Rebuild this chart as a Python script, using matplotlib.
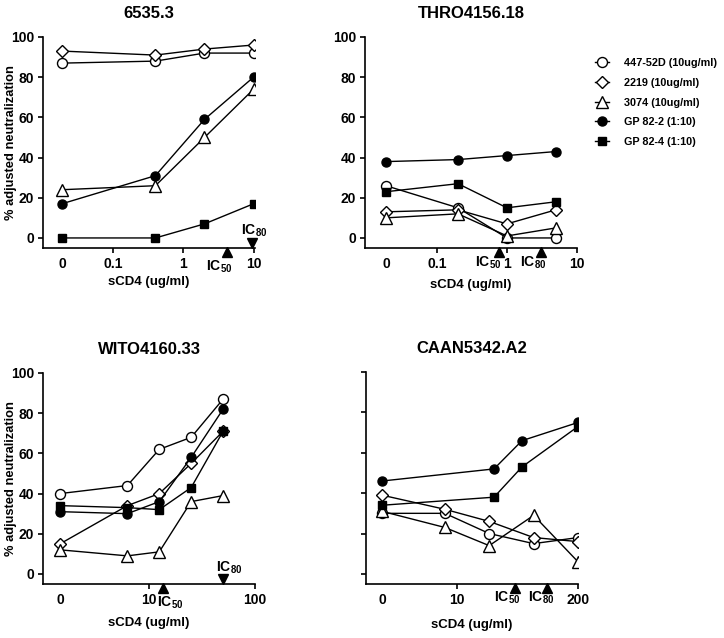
import matplotlib
matplotlib.use("Agg")
import matplotlib.pyplot as plt
from matplotlib.lines import Line2D

plt.rcParams['font.family'] = ['Liberation Sans', 'DejaVu Sans']
plt.rcParams['font.weight'] = 'bold'
plt.rcParams['mathtext.fontset'] = 'custom'
plt.rcParams['mathtext.rm'] = 'Liberation Sans:bold'
plt.rcParams['mathtext.it'] = 'Liberation Sans:bold'
plt.rcParams['mathtext.bf'] = 'Liberation Sans:bold'
plt.rcParams['mathtext.default'] = 'rm'

SERIES = ["447-52D (10ug/ml)", "2219 (10ug/ml)", "3074 (10ug/ml)",
          "GP 82-2 (1:10)", "GP 82-4 (1:10)"]

# --- panel 1: 6535.3 ---
p1_conc = [0, 0.4, 2, 10]
p1_447 = [87, 88, 92, 92]
p1_2219 = [93, 91, 94, 96]
p1_3074 = [24, 26, 50, 74]
p1_gp2 = [17, 31, 59, 80]
p1_gp4 = [0, 0, 7, 17]
p1_ic = [4.2, 9.6]

# --- panel 2: THRO4156.18 ---
p2_conc = [0, 0.2, 1, 5]
p2_447 = [26, 15, 0, 0]
p2_2219 = [13, 14, 7, 14]
p2_3074 = [10, 12, 1, 5]
p2_gp2 = [38, 39, 41, 43]
p2_gp4 = [23, 27, 15, 18]
p2_ic = [0.77, 3.1]

# --- panel 3: WITO4160.33 ---
p3_conc = [0, 6.25, 12.5, 25, 50]
p3_447 = [40, 44, 62, 68, 87]
p3_2219 = [15, 34, 40, 55, 71]
p3_3074 = [12, 9, 11, 36, 39]
p3_gp2 = [31, 30, 36, 58, 82]
p3_gp4 = [34, 33, 32, 43, 71]
p3_ic = [13.6, 50]

# --- panel 4: CAAN5342.A2 ---
p4_conc_mab = [0, 7.4, 22.2, 66.7, 200]
p4_conc_gp = [0, 25, 50, 200]
p4_447 = [30, 30, 20, 15, 18]
p4_2219 = [39, 32, 26, 18, 16]
p4_3074 = [31, 23, 14, 29, 6]
p4_gp2 = [46, 52, 66, 75]
p4_gp4 = [34, 38, 53, 73]
p4_ic = [42, 93]

STYLES = [
    dict(marker='o', ms=7.2, mfc='white'),
    dict(marker='D', ms=5.8, mfc='white'),
    dict(marker='^', ms=8.0, mfc='white'),
    dict(marker='o', ms=6.5, mfc='black'),
    dict(marker='s', ms=5.4, mfc='black'),
]

W, H = 724, 638
fig = plt.figure(figsize=(W / 100, H / 100), dpi=100)


def add_axes(left, right, top, bottom):
    return fig.add_axes([left / W, 1 - bottom / H, (right - left) / W, (bottom - top) / H])


def style_axes(ax, zero, ticks, labels, xlim, ylabels=True):
    ax.set_xscale('log')
    ax.set_xlim(*xlim)
    ax.set_ylim(-5, 100)
    ax.set_xticks([zero] + ticks, labels=['0'] + labels)
    ax.minorticks_off()
    ax.xaxis.get_major_ticks()[0].tick1line.set_visible(False)
    ax.set_yticks(range(0, 101, 20))
    if not ylabels:
        ax.set_yticklabels([])
    for s in ['top', 'right']:
        ax.spines[s].set_visible(False)
    for s in ['left', 'bottom']:
        ax.spines[s].set_linewidth(1.2)
    ax.tick_params(length=3.5, width=1.2, labelsize=10, pad=3)
    for lab in ax.get_xticklabels() + ax.get_yticklabels():
        lab.set_fontweight('bold')


def plot_series(ax, xs_list, ys_list, zero):
    for xs, ys, st in zip(xs_list, ys_list, STYLES):
        xx = [zero if v == 0 else v for v in xs]
        ax.plot(xx, ys, color='black', lw=1.0, mec='black', mew=1.0, zorder=3, **st)


def ic_marks(ax, ic, kinds, offsets):
    # kinds: 'up' below axis, 'down' above axis
    for val, kind, off, name in zip(ic, kinds, offsets, ['50', '80']):
        if kind == 'up':
            y, m = -7.2, '^'
        else:
            y, m = -2.6, 'v'
        ax.plot([val], [y], marker=m, ms=6.5, color='black', clip_on=False, zorder=5)
        ax.annotate('IC$_{%s}$' % name, xy=(val, y), xytext=off, textcoords='offset points',
                    ha='center', va='center', fontsize=10, fontweight='bold',
                    annotation_clip=False)


# panel 1
ax1 = add_axes(43, 255, 37, 248)
z1 = 0.0186
plot_series(ax1, [p1_conc] * 5, [p1_447, p1_2219, p1_3074, p1_gp2, p1_gp4], z1)
style_axes(ax1, z1, [0.1, 1, 10], ['0.1', '1', '10'], (0.01, 10.5))
ic_marks(ax1, p1_ic, ['up', 'down'], [(-5.8, -10), (1.5, 8.6)])
ax1.set_title('6535.3', fontsize=12, fontweight='bold', pad=14)

# panel 2
ax2 = add_axes(365, 577, 37, 248)
z2 = 0.0187
plot_series(ax2, [p2_conc] * 5, [p2_447, p2_2219, p2_3074, p2_gp2, p2_gp4], z2)
style_axes(ax2, z2, [0.1, 1, 10], ['0.1', '1', '10'], (0.0094, 10))
ic_marks(ax2, p2_ic, ['up', 'up'], [(-7.5, -7.5), (-6, -7.5)])
ax2.set_title('THRO4156.18', fontsize=12, fontweight='bold', pad=14)

# panel 3
ax3 = add_axes(43, 255, 373, 584)
z3 = 1.45
plot_series(ax3, [p3_conc] * 5, [p3_447, p3_2219, p3_3074, p3_gp2, p3_gp4], z3)
style_axes(ax3, z3, [10, 100], ['10', '100'], (1, 100))
ic_marks(ax3, p3_ic, ['up', 'down'], [(5, -10), (4.5, 8)])
ax3.set_title('WITO4160.33', fontsize=12, fontweight='bold', pad=14)

# panel 4
ax4 = add_axes(366, 578, 372, 584)
z4 = 1.56
plot_series(ax4, [p4_conc_mab] * 3 + [p4_conc_gp] * 2,
            [p4_447, p4_2219, p4_3074, p4_gp2, p4_gp4], z4)
style_axes(ax4, z4, [10, 200], ['10', '200'], (1.05, 200), ylabels=False)
ic_marks(ax4, p4_ic, ['up', 'up'], [(-5.8, -7), (-4.5, -7)])
ax4.set_title('CAAN5342.A2', fontsize=12, fontweight='bold', pad=14)

for ax, ly in [(ax1, -0.161), (ax2, -0.175), (ax3, -0.185), (ax4, -0.194)]:
    ax.set_xlabel('sCD4 (ug/ml)', fontsize=9.5, fontweight='bold')
    ax.xaxis.set_label_coords(0.5, ly)
    ax.xaxis.label.set_va('center')

for ax in [ax1, ax3]:
    ax.set_ylabel('% adjusted neutralization', fontsize=9.3, fontweight='bold')
    ax.yaxis.set_label_coords(-0.152, 0.5)
    ax.yaxis.label.set_va('center')

handles = [Line2D([], [], color='black', lw=1.0, mec='black', mew=1.0, **st) for st in STYLES]
fig.legend(handles, SERIES, loc='upper left', bbox_to_anchor=(595 / W, 1 - 58 / H),
           frameon=False, prop={'weight': 'bold', 'size': 7.8},
           handlelength=1.3, handletextpad=1.35, labelspacing=0.9, borderpad=0,
           borderaxespad=0)

fig.savefig('out.png', dpi=100, facecolor='white')
